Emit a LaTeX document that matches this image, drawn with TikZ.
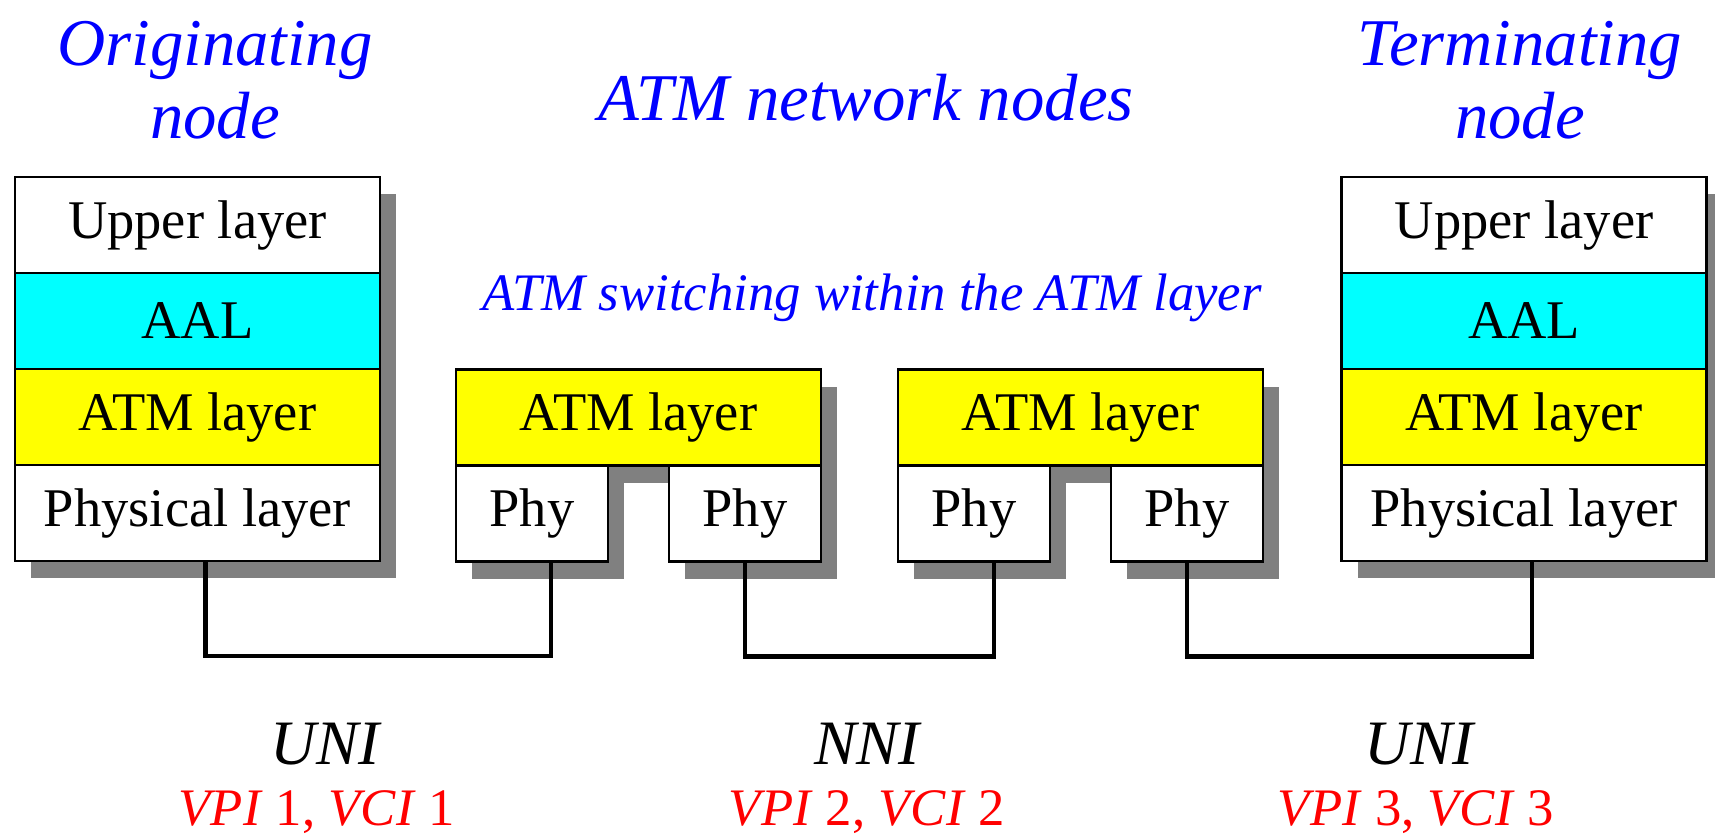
\documentclass[tikz,border=0pt]{standalone}
\usepackage{fontspec}
\setmainfont{Liberation Serif}[ItalicFont={Liberation Serif Italic}]
\usepackage{tikz}
\usetikzlibrary{
  positioning,
  shadows
}
\definecolor{aalcyan}{RGB}{0,255,255}
\definecolor{atmyellow}{RGB}{255,255,0}
\definecolor{titleblue}{RGB}{0,0,255}
\definecolor{idred}{RGB}{255,0,0}
\tikzset{
  layerbox/.style={draw, line width=0.6pt, fill=white,
    minimum width=3.65cm, minimum height=0.96cm,
    inner sep=0pt, outer sep=0pt, align=center,
    font=\fontsize{15.5}{18}\selectfont,
    drop shadow={shadow xshift=1.6mm, shadow yshift=-1.7mm,
      fill=black!50, opacity=1}},
  phybox/.style={layerbox, minimum width=1.52cm},
  titletext/.style={text=titleblue, align=center,
    font=\fontsize{19}{20.8}\selectfont\itshape},
  ifacetext/.style={font=\fontsize{18}{20}\selectfont\itshape},
  idtext/.style={text=idred, font=\fontsize{15}{18}\selectfont},
  link/.style={line width=1.2pt},
}
\newcommand{\VPVC}[1]{\textit{VPI}~#1, \textit{VCI}~#1}

\begin{document}
\begin{tikzpicture}
  \useasboundingbox (0,0) rectangle (17.15,8.36);

  % Titles
  \node[titletext] (orig) at (2.15,7.555) {Originating\\node};
  \node[titletext] (net) at (8.66,7.38) {ATM network nodes};
  \node[titletext] (term) at (15.2,7.555) {Terminating\\node};
  \node[titletext, font=\fontsize{15}{18}\selectfont\itshape] (switching)
    at (8.72,5.38) {ATM switching within the ATM layer};

  % Originating node
  \node[layerbox] (upperL) at (1.975,6.11) {Upper layer};
  \node[layerbox, fill=aalcyan, below=0pt of upperL] (aalL) {AAL};
  \node[layerbox, fill=atmyellow, below=0pt of aalL] (atmL) {ATM layer};
  \node[layerbox, below=0pt of atmL] (physL) {Physical layer};

  % Switches
  \node[layerbox, fill=atmyellow] (atmA) at (6.385,4.185) {ATM layer};
  \node[phybox, below right=0pt and 0pt of atmA.south west] (phyA1) {Phy};
  \node[phybox, below left=0pt and 0pt of atmA.south east] (phyA2) {Phy};

  \node[layerbox, fill=atmyellow] (atmB) at (10.805,4.185) {ATM layer};
  \node[phybox, below right=0pt and 0pt of atmB.south west] (phyB1) {Phy};
  \node[phybox, below left=0pt and 0pt of atmB.south east] (phyB2) {Phy};

  % Terminating node
  \node[layerbox] (upperR) at (15.24,6.11) {Upper layer};
  \node[layerbox, fill=aalcyan, below=0pt of upperR] (aalR) {AAL};
  \node[layerbox, fill=atmyellow, below=0pt of aalR] (atmR) {ATM layer};
  \node[layerbox, below=0pt of atmR] (physR) {Physical layer};

  % Links
  \draw[link] ([xshift=0.8mm]physL.south) -- ++(0,-0.95)
    -| ([xshift=1.9mm]phyA1.south);
  \draw[link] (phyA2.south) -- ++(0,-0.95)
    -| ([xshift=2mm]phyB1.south);
  \draw[link] (phyB2.south) -- ++(0,-0.95)
    -| ([xshift=0.8mm]physR.south);

  % Interfaces
  \node[ifacetext] (uniL) at (3.25,0.92) {UNI};
  \node[idtext] (idL) at (3.17,0.24) {\VPVC{1}};
  \node[ifacetext] (nni) at (8.67,0.92) {NNI};
  \node[idtext] (idM) at (8.67,0.24) {\VPVC{2}};
  \node[ifacetext] (uniR) at (14.19,0.92) {UNI};
  \node[idtext] (idR) at (14.16,0.24) {\VPVC{3}};
\end{tikzpicture}
\end{document}
